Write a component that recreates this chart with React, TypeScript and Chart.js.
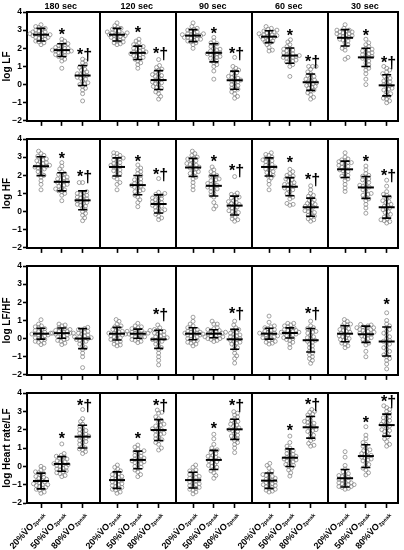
import React, { useEffect, useRef } from "react";
import { Chart, registerables } from "chart.js";
Chart.register(...registerables);

// ---------- labels ----------
const colTitles = ["180 sec", "120 sec", "90 sec", "60 sec", "30 sec"];
const groupPrefixes = ["20%", "50%", "80%"];
const groupMain = "V\u0307O";
const groupSub = "2peak";
const yTitles = ["log LF", "log HF", "log LF/HF", "log Heart rate/LF"];
const yTickValues = [-2, -1, 0, 1, 2, 3, 4];

// ---------- log LF ----------
const lf_180_20 = [3.3, 3.2, 3.15, 3.1, 3.05, 3.0, 2.95, 2.9, 2.9, 2.85, 2.8, 2.8, 2.75, 2.75, 2.7, 2.7, 2.65, 2.6, 2.6, 2.55, 2.5, 2.45, 2.4, 2.35, 2.3, 2.2];
const lf_180_50 = [2.5, 2.4, 2.3, 2.25, 2.2, 2.15, 2.1, 2.05, 2.0, 2.0, 1.95, 1.9, 1.9, 1.85, 1.85, 1.8, 1.8, 1.75, 1.7, 1.65, 1.6, 1.55, 1.5, 1.4, 1.3, 0.9];
const lf_180_80 = [1.4, 1.3, 1.2, 1.1, 1.0, 0.95, 0.85, 0.8, 0.7, 0.65, 0.6, 0.55, 0.5, 0.45, 0.4, 0.35, 0.3, 0.2, 0.1, 0.05, 0.0, -0.1, -0.2, -0.3, -0.5, -0.9];
const lf_120_20 = [3.4, 3.25, 3.15, 3.1, 3.05, 3.0, 2.95, 2.9, 2.85, 2.85, 2.8, 2.8, 2.75, 2.7, 2.7, 2.65, 2.6, 2.6, 2.55, 2.5, 2.45, 2.4, 2.35, 2.3, 2.25, 2.2];
const lf_120_50 = [2.5, 2.4, 2.3, 2.2, 2.15, 2.1, 2.05, 2.0, 1.95, 1.9, 1.85, 1.8, 1.8, 1.75, 1.7, 1.7, 1.65, 1.6, 1.55, 1.5, 1.45, 1.4, 1.3, 1.2, 1.1, 0.9];
const lf_120_80 = [1.38, 1.05, 0.95, 0.85, 0.8, 0.7, 0.6, 0.55, 0.5, 0.45, 0.4, 0.3, 0.25, 0.2, 0.15, 0.1, 0.05, 0.0, -0.1, -0.15, -0.2, -0.3, -0.4, -0.5, -0.65, -0.8];
const lf_90_20 = [3.4, 3.2, 3.1, 3.05, 3.0, 2.95, 2.9, 2.85, 2.8, 2.8, 2.75, 2.75, 2.7, 2.7, 2.65, 2.6, 2.6, 2.55, 2.5, 2.5, 2.45, 2.4, 2.35, 2.3, 2.2, 2.0];
const lf_90_50 = [2.6, 2.4, 2.3, 2.25, 2.2, 2.1, 2.0, 1.95, 1.9, 1.85, 1.8, 1.75, 1.7, 1.7, 1.65, 1.6, 1.55, 1.5, 1.45, 1.4, 1.3, 1.2, 1.1, 1.0, 0.75, 0.3];
const lf_90_80 = [1.5, 1.0, 0.9, 0.8, 0.75, 0.65, 0.6, 0.5, 0.45, 0.4, 0.35, 0.3, 0.25, 0.2, 0.15, 0.1, 0.0, -0.05, -0.1, -0.2, -0.25, -0.3, -0.4, -0.5, -0.65, -0.75];
const lf_60_20 = [3.2, 3.1, 3.05, 3.0, 2.95, 2.9, 2.9, 2.85, 2.8, 2.75, 2.75, 2.7, 2.7, 2.65, 2.6, 2.6, 2.55, 2.5, 2.45, 2.4, 2.35, 2.3, 2.2, 2.05, 1.9, 1.85];
const lf_60_50 = [2.47, 2.35, 2.2, 2.1, 2.0, 1.95, 1.9, 1.85, 1.8, 1.75, 1.7, 1.65, 1.6, 1.6, 1.55, 1.5, 1.5, 1.45, 1.4, 1.35, 1.3, 1.25, 1.2, 1.1, 1.0, 0.45];
const lf_60_80 = [1.0, 1.0, 1.0, 0.85, 0.7, 0.6, 0.5, 0.45, 0.4, 0.3, 0.25, 0.2, 0.15, 0.1, 0.05, 0.0, -0.05, -0.1, -0.15, -0.2, -0.3, -0.35, -0.45, -0.55, -0.7, -0.8];
const lf_30_20 = [3.3, 3.1, 3.0, 3.0, 2.95, 2.9, 2.9, 2.85, 2.8, 2.8, 2.75, 2.7, 2.7, 2.65, 2.6, 2.55, 2.5, 2.45, 2.4, 2.3, 2.2, 2.1, 2.0, 1.9, 1.5, 1.4];
const lf_30_50 = [2.5, 2.3, 2.2, 2.1, 2.0, 1.95, 1.9, 1.85, 1.8, 1.75, 1.7, 1.65, 1.6, 1.55, 1.5, 1.45, 1.4, 1.3, 1.2, 1.1, 1.0, 0.9, 0.8, 0.6, 0.3, 0.0];
const lf_30_80 = [1.0, 0.9, 0.8, 0.7, 0.6, 0.5, 0.45, 0.35, 0.3, 0.2, 0.15, 0.1, 0.0, -0.05, -0.1, -0.2, -0.25, -0.3, -0.4, -0.5, -0.6, -0.65, -0.75, -0.8, -0.9, -1.0];
const lfMean = [2.75, 1.9, 0.5, 2.75, 1.75, 0.25, 2.7, 1.75, 0.24, 2.64, 1.6, 0.13, 2.58, 1.5, -0.04];
const lfSd = [0.35, 0.35, 0.55, 0.35, 0.37, 0.52, 0.33, 0.5, 0.5, 0.33, 0.42, 0.45, 0.45, 0.5, 0.58];
const lfStars = ["", "*", "*†", "", "*", "*†", "", "*", "*†", "", "*", "*†", "", "*", "*†"];
const lfStarY = [0, 2.95, 1.85, 0, 3.07, 1.93, 0, 3.0, 1.93, 0, 2.9, 1.44, 0, 2.9, 1.4];

// ---------- log HF ----------
const hf_180_20 = [3.33, 3.2, 3.1, 3.05, 3.0, 2.9, 2.85, 2.8, 2.75, 2.7, 2.65, 2.6, 2.55, 2.5, 2.5, 2.45, 2.4, 2.35, 2.3, 2.2, 2.1, 2.0, 1.9, 1.7, 1.5, 1.2];
const hf_180_50 = [2.7, 2.5, 2.35, 2.2, 2.1, 2.05, 2.0, 1.9, 1.85, 1.8, 1.75, 1.7, 1.65, 1.6, 1.55, 1.5, 1.45, 1.4, 1.3, 1.25, 1.2, 1.15, 1.1, 1.0, 0.9, 0.6];
const hf_180_80 = [1.6, 1.6, 1.1, 1.05, 1.0, 0.95, 0.9, 0.85, 0.8, 0.75, 0.7, 0.65, 0.6, 0.55, 0.5, 0.45, 0.4, 0.35, 0.3, 0.2, 0.1, 0.0, -0.1, -0.2, -0.35, -0.5];
const hf_120_20 = [3.24, 3.2, 3.1, 3.05, 3.0, 2.95, 2.9, 2.85, 2.8, 2.7, 2.65, 2.6, 2.55, 2.5, 2.45, 2.4, 2.3, 2.25, 2.2, 2.1, 2.0, 1.9, 1.8, 1.6, 1.5, 1.2];
const hf_120_50 = [2.57, 2.4, 2.3, 2.2, 2.1, 2.0, 1.9, 1.8, 1.75, 1.7, 1.6, 1.55, 1.5, 1.45, 1.4, 1.35, 1.3, 1.2, 1.15, 1.1, 1.0, 0.9, 0.8, 0.65, 0.5, 0.27];
const hf_120_80 = [1.82, 1.06, 1.0, 0.95, 0.9, 0.85, 0.75, 0.7, 0.65, 0.6, 0.55, 0.5, 0.45, 0.4, 0.35, 0.3, 0.25, 0.2, 0.1, 0.05, 0.0, -0.05, -0.15, -0.25, -0.35, -0.44];
const hf_90_20 = [3.33, 3.2, 3.1, 3.0, 2.95, 2.9, 2.85, 2.8, 2.7, 2.65, 2.6, 2.55, 2.5, 2.45, 2.4, 2.35, 2.3, 2.2, 2.15, 2.1, 2.0, 1.9, 1.8, 1.6, 1.4, 1.2];
const hf_90_50 = [2.46, 2.3, 2.2, 2.1, 2.0, 1.95, 1.9, 1.8, 1.75, 1.7, 1.6, 1.55, 1.5, 1.45, 1.4, 1.35, 1.3, 1.25, 1.2, 1.1, 1.0, 0.9, 0.8, 0.5, 0.3, 0.15];
const hf_90_80 = [1.93, 1.02, 0.95, 0.9, 0.8, 0.75, 0.7, 0.6, 0.55, 0.5, 0.45, 0.4, 0.35, 0.3, 0.25, 0.2, 0.1, 0.05, 0.0, -0.05, -0.1, -0.2, -0.3, -0.4, -0.45, -0.53];
const hf_60_20 = [3.24, 3.15, 3.1, 3.0, 2.95, 2.9, 2.85, 2.8, 2.75, 2.7, 2.6, 2.55, 2.5, 2.45, 2.4, 2.35, 2.3, 2.2, 2.15, 2.1, 2.0, 1.95, 1.85, 1.7, 1.5, 1.2];
const hf_60_50 = [2.33, 2.2, 2.1, 2.0, 1.95, 1.9, 1.8, 1.75, 1.7, 1.6, 1.55, 1.5, 1.45, 1.4, 1.35, 1.3, 1.25, 1.2, 1.1, 1.0, 0.9, 0.8, 0.7, 0.45, 0.4, 0.35];
const hf_60_80 = [1.42, 1.2, 1.0, 0.9, 0.85, 0.75, 0.65, 0.6, 0.5, 0.45, 0.4, 0.35, 0.3, 0.25, 0.2, 0.1, 0.05, 0.0, -0.05, -0.1, -0.2, -0.25, -0.3, -0.4, -0.45, -0.53];
const hf_30_20 = [3.24, 3.0, 2.9, 2.85, 2.8, 2.75, 2.7, 2.7, 2.65, 2.6, 2.55, 2.5, 2.45, 2.4, 2.3, 2.25, 2.2, 2.1, 2.0, 1.95, 1.9, 1.8, 1.7, 1.5, 1.3, 1.11];
const hf_30_50 = [2.51, 2.3, 2.1, 2.0, 1.95, 1.9, 1.8, 1.75, 1.7, 1.6, 1.5, 1.45, 1.4, 1.35, 1.3, 1.2, 1.1, 1.0, 0.95, 0.9, 0.8, 0.7, 0.6, 0.4, 0.2, -0.09];
const hf_30_80 = [1.73, 1.4, 1.1, 0.95, 0.9, 0.8, 0.7, 0.6, 0.55, 0.5, 0.4, 0.35, 0.3, 0.2, 0.15, 0.1, 0.0, -0.05, -0.15, -0.2, -0.3, -0.4, -0.45, -0.5, -0.55, -0.63];
const hfMean = [2.5, 1.64, 0.62, 2.46, 1.46, 0.42, 2.43, 1.42, 0.33, 2.46, 1.37, 0.24, 2.33, 1.33, 0.24];
const hfSd = [0.52, 0.5, 0.52, 0.5, 0.53, 0.5, 0.5, 0.56, 0.52, 0.5, 0.5, 0.5, 0.45, 0.6, 0.6];
const hfStars = ["", "*", "*†", "", "*", "*†", "", "*", "*†", "", "*", "*†", "", "*", "*†"];
const hfStarY = [0, 3.1, 2.15, 0, 2.97, 2.24, 0, 2.97, 2.46, 0, 2.9, 1.97, 0, 2.97, 2.19];

// ---------- log LF/HF ----------
const lh_180_20 = [1.04, 0.8, 0.7, 0.65, 0.6, 0.55, 0.5, 0.45, 0.4, 0.35, 0.3, 0.3, 0.25, 0.25, 0.2, 0.2, 0.15, 0.1, 0.05, 0.0, -0.05, -0.1, -0.15, -0.2, -0.25, -0.33];
const lh_180_50 = [0.8, 0.75, 0.7, 0.6, 0.55, 0.5, 0.5, 0.45, 0.4, 0.4, 0.35, 0.3, 0.3, 0.3, 0.25, 0.25, 0.2, 0.15, 0.1, 0.05, 0.0, -0.05, -0.1, -0.15, -0.25, -0.33];
const lh_180_80 = [0.62, 0.55, 0.5, 0.45, 0.4, 0.35, 0.3, 0.25, 0.2, 0.15, 0.1, 0.1, 0.05, 0.0, 0.0, -0.05, -0.1, -0.15, -0.2, -0.3, -0.4, -0.5, -0.6, -0.8, -1.0, -1.6];
const lh_120_20 = [1.05, 0.95, 0.8, 0.7, 0.65, 0.6, 0.5, 0.45, 0.4, 0.35, 0.3, 0.3, 0.25, 0.2, 0.2, 0.15, 0.1, 0.05, 0.0, -0.05, -0.1, -0.15, -0.2, -0.3, -0.35, -0.4];
const lh_120_50 = [0.84, 0.7, 0.65, 0.6, 0.55, 0.5, 0.45, 0.45, 0.4, 0.4, 0.35, 0.3, 0.3, 0.3, 0.25, 0.25, 0.2, 0.15, 0.1, 0.1, 0.05, 0.0, -0.05, -0.1, -0.15, -0.22];
const lh_120_80 = [0.75, 0.6, 0.5, 0.45, 0.4, 0.35, 0.3, 0.25, 0.2, 0.15, 0.1, 0.05, 0.0, 0.0, -0.05, -0.1, -0.15, -0.2, -0.3, -0.4, -0.5, -0.6, -0.8, -1.0, -1.2, -1.45];
const lh_90_20 = [1.18, 0.95, 0.8, 0.7, 0.6, 0.55, 0.5, 0.45, 0.4, 0.35, 0.3, 0.3, 0.25, 0.2, 0.2, 0.15, 0.1, 0.05, 0.0, -0.05, -0.1, -0.15, -0.2, -0.25, -0.3, -0.4];
const lh_90_50 = [0.96, 0.8, 0.8, 0.6, 0.55, 0.5, 0.45, 0.45, 0.4, 0.35, 0.35, 0.3, 0.3, 0.25, 0.25, 0.2, 0.2, 0.15, 0.1, 0.1, 0.05, 0.0, 0.0, -0.05, -0.1, -0.16];
const lh_90_80 = [0.96, 0.75, 0.6, 0.5, 0.45, 0.35, 0.3, 0.25, 0.2, 0.15, 0.1, 0.05, 0.0, -0.05, -0.1, -0.15, -0.2, -0.25, -0.3, -0.4, -0.5, -0.6, -0.8, -0.95, -1.1, -1.35];
const lh_60_20 = [1.24, 0.9, 0.7, 0.65, 0.6, 0.55, 0.5, 0.45, 0.4, 0.35, 0.3, 0.3, 0.25, 0.25, 0.2, 0.15, 0.1, 0.1, 0.05, 0.0, -0.05, -0.1, -0.15, -0.2, -0.25, -0.3];
const lh_60_50 = [0.84, 0.84, 0.75, 0.7, 0.65, 0.6, 0.55, 0.5, 0.45, 0.45, 0.4, 0.35, 0.35, 0.3, 0.3, 0.25, 0.2, 0.15, 0.1, 0.05, 0.0, -0.05, -0.1, -0.2, -0.3, -0.5];
const lh_60_80 = [0.96, 0.7, 0.6, 0.55, 0.5, 0.4, 0.35, 0.3, 0.2, 0.1, 0.05, 0.0, -0.1, -0.15, -0.2, -0.3, -0.4, -0.5, -0.6, -0.7, -0.8, -0.9, -1.0, -1.1, -1.2, -1.36];
const lh_30_20 = [1.05, 0.95, 0.85, 0.8, 0.75, 0.7, 0.6, 0.55, 0.5, 0.45, 0.4, 0.35, 0.3, 0.25, 0.2, 0.15, 0.1, 0.05, 0.0, -0.05, -0.1, -0.15, -0.25, -0.3, -0.4, -0.5];
const lh_30_50 = [0.78, 0.75, 0.7, 0.65, 0.6, 0.6, 0.55, 0.5, 0.5, 0.45, 0.4, 0.35, 0.3, 0.3, 0.25, 0.2, 0.15, 0.1, 0.05, 0.0, -0.05, -0.15, -0.25, -0.35, -0.7, -1.0];
const lh_30_80 = [1.42, 1.0, 0.8, 0.7, 0.6, 0.5, 0.4, 0.3, 0.2, 0.1, 0.0, -0.1, -0.15, -0.2, -0.3, -0.4, -0.5, -0.6, -0.7, -0.8, -0.9, -1.0, -1.1, -1.2, -1.4, -1.67];
const lhMean = [0.27, 0.3, 0.0, 0.27, 0.27, -0.04, 0.27, 0.27, -0.04, 0.27, 0.31, -0.09, 0.27, 0.24, -0.16];
const lhSd = [0.3, 0.28, 0.55, 0.35, 0.25, 0.5, 0.33, 0.22, 0.55, 0.3, 0.28, 0.65, 0.44, 0.45, 0.8];
const lhStars = ["", "", "", "", "", "*†", "", "", "*†", "", "", "*†", "", "", "*"];
const lhStarY = [0, 0, 0, 0, 0, 1.5, 0, 0, 1.6, 0, 0, 1.55, 0, 0, 2.05];

// ---------- log Heart rate/LF ----------
const hr_180_20 = [0.0, -0.1, -0.2, -0.3, -0.35, -0.4, -0.5, -0.55, -0.6, -0.65, -0.7, -0.75, -0.8, -0.85, -0.9, -0.95, -1.0, -1.0, -1.05, -1.1, -1.15, -1.2, -1.25, -1.3, -1.4, -1.47];
const hr_180_50 = [1.22, 0.7, 0.6, 0.55, 0.5, 0.45, 0.4, 0.35, 0.3, 0.25, 0.2, 0.15, 0.1, 0.1, 0.05, 0.0, -0.05, -0.1, -0.15, -0.2, -0.25, -0.3, -0.35, -0.4, -0.5, -0.56];
const hr_180_80 = [3.1, 2.6, 2.45, 2.3, 2.2, 2.1, 2.0, 1.95, 1.9, 1.8, 1.75, 1.7, 1.65, 1.6, 1.55, 1.5, 1.4, 1.35, 1.3, 1.2, 1.1, 1.0, 0.95, 0.9, 0.8, 0.7];
const hr_120_20 = [0.07, -0.05, -0.15, -0.25, -0.3, -0.4, -0.45, -0.5, -0.55, -0.6, -0.65, -0.7, -0.75, -0.8, -0.85, -0.9, -0.95, -1.0, -1.05, -1.1, -1.15, -1.2, -1.25, -1.3, -1.4, -1.47];
const hr_120_50 = [1.16, 1.05, 0.95, 0.85, 0.8, 0.75, 0.7, 0.6, 0.55, 0.5, 0.45, 0.4, 0.35, 0.3, 0.3, 0.25, 0.2, 0.15, 0.1, 0.0, -0.05, -0.1, -0.2, -0.3, -0.45, -0.56];
const hr_120_80 = [3.07, 2.95, 2.9, 2.7, 2.6, 2.5, 2.4, 2.3, 2.25, 2.2, 2.1, 2.05, 2.0, 1.95, 1.9, 1.8, 1.75, 1.7, 1.6, 1.5, 1.45, 1.4, 1.3, 1.2, 1.0, 0.89];
const hr_90_20 = [0.07, -0.05, -0.2, -0.25, -0.3, -0.4, -0.45, -0.5, -0.55, -0.6, -0.65, -0.7, -0.75, -0.8, -0.85, -0.9, -0.95, -1.0, -1.05, -1.1, -1.15, -1.2, -1.25, -1.3, -1.4, -1.5];
const hr_90_50 = [1.75, 1.5, 1.2, 1.0, 0.9, 0.85, 0.75, 0.7, 0.6, 0.55, 0.5, 0.45, 0.4, 0.35, 0.3, 0.25, 0.2, 0.1, 0.05, 0.0, -0.05, -0.15, -0.25, -0.35, -0.5, -0.65];
const hr_90_80 = [2.98, 2.9, 2.8, 2.7, 2.6, 2.5, 2.45, 2.4, 2.3, 2.25, 2.2, 2.1, 2.05, 2.0, 1.95, 1.9, 1.8, 1.7, 1.65, 1.6, 1.5, 1.4, 1.3, 1.2, 1.0, 0.75];
const hr_60_20 = [0.16, 0.05, -0.1, -0.25, -0.35, -0.45, -0.5, -0.55, -0.6, -0.65, -0.7, -0.75, -0.8, -0.85, -0.9, -0.95, -1.0, -1.0, -1.05, -1.1, -1.15, -1.2, -1.25, -1.3, -1.35, -1.4];
const hr_60_50 = [1.65, 1.3, 1.1, 1.0, 0.9, 0.85, 0.8, 0.7, 0.65, 0.6, 0.55, 0.5, 0.45, 0.4, 0.4, 0.35, 0.3, 0.25, 0.2, 0.1, 0.05, 0.0, -0.1, -0.2, -0.35, -0.53];
const hr_60_80 = [3.1, 3.0, 2.95, 2.85, 2.8, 2.7, 2.6, 2.5, 2.45, 2.4, 2.35, 2.3, 2.2, 2.15, 2.1, 2.0, 1.95, 1.9, 1.8, 1.7, 1.6, 1.5, 1.4, 1.25, 1.15, 1.1];
const hr_30_20 = [0.8, 0.5, 0.05, -0.15, -0.3, -0.4, -0.45, -0.5, -0.55, -0.6, -0.65, -0.7, -0.75, -0.8, -0.85, -0.9, -0.9, -0.95, -1.0, -1.0, -1.05, -1.1, -1.1, -1.15, -1.2, -1.25];
const hr_30_50 = [2.16, 1.7, 1.5, 1.3, 1.2, 1.1, 1.0, 0.9, 0.85, 0.8, 0.7, 0.65, 0.6, 0.55, 0.5, 0.45, 0.4, 0.35, 0.3, 0.2, 0.1, 0.0, -0.1, -0.2, -0.35, -0.47];
const hr_30_80 = [3.3, 3.2, 3.1, 3.0, 2.9, 2.8, 2.7, 2.65, 2.6, 2.5, 2.45, 2.4, 2.3, 2.25, 2.2, 2.1, 2.0, 1.95, 1.9, 1.8, 1.7, 1.6, 1.5, 1.35, 1.2, 1.1];
const hrMean = [-0.8, 0.13, 1.62, -0.75, 0.35, 1.98, -0.75, 0.35, 2.02, -0.78, 0.47, 2.13, -0.65, 0.56, 2.25];
const hrSd = [0.43, 0.4, 0.62, 0.45, 0.48, 0.57, 0.43, 0.52, 0.55, 0.42, 0.48, 0.59, 0.48, 0.62, 0.6];
const hrStars = ["", "*", "*†", "", "*", "*†", "", "*", "*†", "", "*", "*†", "", "*", "*†"];
const hrStarY = [0, 1.7, 3.5, 0, 1.7, 3.5, 0, 2.25, 3.5, 0, 2.16, 3.58, 0, 2.6, 3.7];

const rowGroups = [
  [lf_180_20, lf_180_50, lf_180_80, lf_120_20, lf_120_50, lf_120_80, lf_90_20, lf_90_50, lf_90_80, lf_60_20, lf_60_50, lf_60_80, lf_30_20, lf_30_50, lf_30_80],
  [hf_180_20, hf_180_50, hf_180_80, hf_120_20, hf_120_50, hf_120_80, hf_90_20, hf_90_50, hf_90_80, hf_60_20, hf_60_50, hf_60_80, hf_30_20, hf_30_50, hf_30_80],
  [lh_180_20, lh_180_50, lh_180_80, lh_120_20, lh_120_50, lh_120_80, lh_90_20, lh_90_50, lh_90_80, lh_60_20, lh_60_50, lh_60_80, lh_30_20, lh_30_50, lh_30_80],
  [hr_180_20, hr_180_50, hr_180_80, hr_120_20, hr_120_50, hr_120_80, hr_90_20, hr_90_50, hr_90_80, hr_60_20, hr_60_50, hr_60_80, hr_30_20, hr_30_50, hr_30_80],
];
const rowMeans = [lfMean, hfMean, lhMean, hrMean];
const rowSds = [lfSd, hfSd, lhSd, hrSd];
const rowStars = [lfStars, hfStars, lhStars, hrStars];
const rowStarY = [lfStarY, hfStarY, lhStarY, hrStarY];

// ---------- layout ----------
const FONT = '"Liberation Sans", Arial, Helvetica, sans-serif';
const COL_STEP = 3.654;
const DIVIDER_OFFSET = 2.827;
const X_MIN = -0.673;
const X_MAX = 17.16;
const W = 404;
const PLOT_TOP = 12;
const PLOT_H = 110;
const ROW_TOPS = [0, 127, 254, 381];
const ROW_HEIGHTS = [127, 127, 127, 169];
const PX_PER_Y = PLOT_H / 6;
const PX_PER_X = (W - 6 - 27) / (X_MAX - X_MIN);
const DOT_D = 3.4;

const groupX = (i: number) => Math.floor(i / 3) * COL_STEP + (i % 3);

function swarmOffsets(values: number[]): number[] {
  const order = values.map((_, i) => i).sort((a, b) => values[a] - values[b]);
  const placed: { x: number; y: number }[] = [];
  const out: number[] = new Array(values.length).fill(0);
  let flip = 1;
  for (const i of order) {
    const y = values[i] * PX_PER_Y;
    const cands: number[] = [0];
    for (const p of placed) {
      const dy = Math.abs(p.y - y);
      if (dy < DOT_D) {
        const dx = Math.sqrt(DOT_D * DOT_D - dy * dy);
        cands.push(p.x + dx, p.x - dx);
      }
    }
    cands.sort((a, b) => {
      const d = Math.abs(a) - Math.abs(b);
      if (Math.abs(d) > 1e-6) return d;
      return flip * (b - a);
    });
    let chosen = 0;
    for (const c of cands) {
      if (placed.every((p) => (p.x - c) ** 2 + (p.y - y) ** 2 >= DOT_D * DOT_D - 1e-3)) {
        chosen = c;
        break;
      }
    }
    if (chosen !== 0) flip = -flip;
    placed.push({ x: chosen, y });
    out[i] = chosen;
  }
  return out;
}

function makePlugin(row: number) {
  return {
    id: "panelDecor" + row,
    afterDatasetsDraw(chart: any) {
      const { ctx, chartArea, scales } = chart;
      const { left, right, top, bottom } = chartArea;
      const x = scales.x;
      const y = scales.y;
      ctx.save();
      // frame and dividers
      ctx.strokeStyle = "#000";
      ctx.lineWidth = 2;
      ctx.beginPath();
      ctx.moveTo(left - 1, top);
      ctx.lineTo(right, top);
      ctx.lineTo(right, bottom + 1);
      for (let c = 0; c < 4; c++) {
        const px = Math.round(x.getPixelForValue(c * COL_STEP + DIVIDER_OFFSET));
        ctx.moveTo(px, top);
        ctx.lineTo(px, bottom);
      }
      ctx.stroke();

      // mean +/- SD
      const means = rowMeans[row];
      const sds = rowSds[row];
      for (let i = 0; i < means.length; i++) {
        const px = x.getPixelForValue(groupX(i));
        const pm = y.getPixelForValue(means[i]);
        const pt = y.getPixelForValue(means[i] + sds[i]);
        const pb = y.getPixelForValue(means[i] - sds[i]);
        ctx.lineWidth = 1.6;
        ctx.beginPath();
        ctx.moveTo(px, pt);
        ctx.lineTo(px, pb);
        ctx.moveTo(px - 4.5, pt);
        ctx.lineTo(px + 4.5, pt);
        ctx.moveTo(px - 4.5, pb);
        ctx.lineTo(px + 4.5, pb);
        ctx.stroke();
        ctx.lineWidth = 2;
        ctx.beginPath();
        ctx.moveTo(px - 8, pm);
        ctx.lineTo(px + 8, pm);
        ctx.stroke();
      }

      // significance marks
      const stars = rowStars[row];
      const starY = rowStarY[row];
      const fs = 16;
      ctx.fillStyle = "#000";
      ctx.font = `bold ${fs}px ${FONT}`;
      ctx.textAlign = "center";
      ctx.textBaseline = "alphabetic";
      for (let i = 0; i < stars.length; i++) {
        if (!stars[i]) continue;
        const px = x.getPixelForValue(groupX(i));
        const py = y.getPixelForValue(starY[i]);
        ctx.fillText(stars[i], px + (stars[i].length > 1 ? 2 : 0), py + fs * 0.56);
      }

      // column titles
      if (row === 0) {
        ctx.font = `bold 9px ${FONT}`;
        ctx.textAlign = "center";
        for (let c = 0; c < colTitles.length; c++) {
          const px = x.getPixelForValue(c * COL_STEP + 1);
          ctx.fillText(colTitles[c], px - 1, top - 3);
        }
      }

      // rotated category labels on the last row
      if (row === 3) {
        const mainFont = `bold 9px ${FONT}`;
        const subFont = `bold 5.5px ${FONT}`;
        for (let i = 0; i < 15; i++) {
          const px = x.getPixelForValue(groupX(i));
          const label = groupPrefixes[i % 3] + groupMain;
          ctx.save();
          ctx.translate(px + 2, bottom + 10);
          ctx.rotate((-48 * Math.PI) / 180);
          ctx.font = subFont;
          const subW = ctx.measureText(groupSub).width;
          ctx.textAlign = "left";
          ctx.textBaseline = "middle";
          ctx.fillText(groupSub, -subW, 2.2);
          ctx.font = mainFont;
          ctx.textAlign = "right";
          ctx.fillText(label, -subW - 0.3, 0);
          ctx.restore();
        }
      }
      ctx.restore();
    },
  };
}

function buildChart(canvas: HTMLCanvasElement, row: number) {
  const H = ROW_HEIGHTS[row];
  const groups = rowGroups[row];
  const datasets = groups.map((vals, i) => {
    const offs = swarmOffsets(vals);
    return {
      data: vals.map((v, k) => ({ x: groupX(i) + offs[k] / PX_PER_X, y: v })),
      pointRadius: 2,
      pointBorderWidth: 0.8,
      pointBorderColor: "#8a8a8a",
      pointBackgroundColor: "rgba(255,255,255,0)",
      showLine: false,
    };
  });
  const tickXs = groups.map((_, i) => groupX(i));
  return new Chart(canvas, {
    type: "scatter",
    data: { datasets },
    options: {
      responsive: false,
      animation: false,
      events: [],
      layout: { padding: { top: PLOT_TOP, right: 6, left: 0, bottom: 0 } },
      plugins: { legend: { display: false }, tooltip: { enabled: false }, title: { display: false } },
      scales: {
        x: {
          type: "linear",
          min: X_MIN,
          max: X_MAX,
          afterBuildTicks: (s: any) => {
            s.ticks = tickXs.map((v) => ({ value: v }));
          },
          afterFit: (s: any) => {
            s.height = H - PLOT_TOP - PLOT_H;
          },
          ticks: { display: false },
          grid: { drawOnChartArea: false, drawTicks: true, tickLength: 5, tickWidth: 1.6, tickColor: "#000" },
          border: { display: true, color: "#000", width: 2 },
        },
        y: {
          type: "linear",
          min: -2,
          max: 4,
          afterBuildTicks: (s: any) => {
            s.ticks = yTickValues.map((v) => ({ value: v }));
          },
          afterFit: (s: any) => {
            s.width = 27;
          },
          ticks: {
            color: "#000",
            padding: 1,
            autoSkip: false,
            font: { family: FONT, size: 8.5, weight: "bold" },
            callback: (v: any) => (Number(v) < 0 ? "\u2212" + Math.abs(Number(v)) : String(v)),
          },
          grid: { drawOnChartArea: false, drawTicks: true, tickLength: 4, tickWidth: 1.6, tickColor: "#000" },
          border: { display: true, color: "#000", width: 2 },
          title: {
            display: true,
            text: yTitles[row],
            color: "#000",
            font: { family: FONT, size: 10, weight: "bold" },
            padding: { top: 1, bottom: 0 },
          },
        },
      },
    },
    plugins: [makePlugin(row)],
  } as any);
}

function RowChart({ row }: { row: number }) {
  const ref = useRef<HTMLCanvasElement | null>(null);
  useEffect(() => {
    if (!ref.current) return;
    const chart = buildChart(ref.current, row);
    return () => chart.destroy();
  }, [row]);
  return (
    <canvas
      ref={ref}
      width={W}
      height={ROW_HEIGHTS[row]}
      style={{ position: "absolute", left: 0, top: ROW_TOPS[row], width: W, height: ROW_HEIGHTS[row] }}
    />
  );
}

export default function App() {
  return (
    <div style={{ position: "absolute", left: 0, top: 0, width: W, height: 550, background: "#fff" }}>
      {[0, 1, 2, 3].map((r) => (
        <RowChart key={r} row={r} />
      ))}
    </div>
  );
}
